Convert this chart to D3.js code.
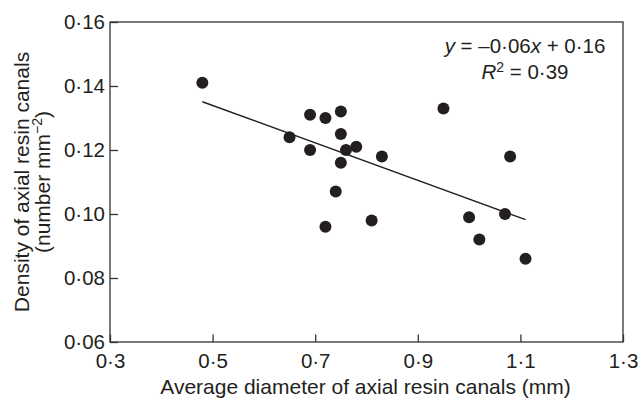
<!DOCTYPE html>
<html>
<head>
<meta charset="utf-8">
<script src="https://cdn.jsdelivr.net/npm/d3@7"></script>
<style>
  body { margin: 0; background: #fff; }
  svg { display: block; font-family: "Liberation Sans", Arial, sans-serif; }
</style>
</head>
<body>
<svg id="chart" width="638" height="400"></svg>
<script>
// Data
const diameter = [0.48, 0.69, 0.72, 0.75, 0.65, 0.75, 0.69, 0.76, 0.78, 0.75,
                  0.83, 0.74, 0.72, 0.81, 0.95, 1.08, 1.00, 1.07, 1.02, 1.11];
const density  = [0.141, 0.131, 0.130, 0.132, 0.124, 0.125, 0.120, 0.120, 0.121, 0.116,
                  0.118, 0.107, 0.096, 0.098, 0.133, 0.118, 0.099, 0.100, 0.092, 0.086];
const xTicks = [0.3, 0.5, 0.7, 0.9, 1.1, 1.3];
const yTicks = [0.06, 0.08, 0.10, 0.12, 0.14, 0.16];
const xTitle = "Average diameter of axial resin canals (mm)";
const yTitle1 = "Density of axial resin canals";
const equationText = ["y", " = \u20130\u00B706", "x", " + 0\u00B716"];
const r2Text = "0\u00B739";

const W = 638, H = 400;
const m = { left: 110, right: 15, top: 22, bottom: 58 };
const pw = W - m.left - m.right, ph = H - m.top - m.bottom;
const ink = "#231f20";

const svg = d3.select("#chart");
const g = svg.append("g").attr("transform", `translate(${m.left},${m.top})`);

const x = d3.scaleLinear().domain([0.3, 1.3]).range([0, pw]);
const y = d3.scaleLinear().domain([0.06, 0.16]).range([ph, 0]);

const fmt = (d, p) => d3.format("." + p + "f")(d).replace(".", "\u00B7");

// axes
const xa = g.append("g").attr("transform", `translate(0,${ph})`)
  .call(d3.axisBottom(x).tickValues(xTicks).tickSizeInner(-7.5).tickSizeOuter(0).tickPadding(11.5)
        .tickFormat(d => fmt(d, 1)));
const ya = g.append("g")
  .call(d3.axisLeft(y).tickValues(yTicks).tickSizeInner(-8).tickSizeOuter(0).tickPadding(5)
        .tickFormat(d => fmt(d, 2)));
[xa, ya].forEach(a => {
  a.select(".domain").remove();
  a.selectAll("line").attr("stroke", "#333").attr("stroke-width", 1.3);
  a.selectAll("text").attr("fill", ink).style("font-size", "20.5px").attr("font-family", null);
});
ya.selectAll("text").attr("dy", "0.34em");

// frame
g.append("rect").attr("x", 0).attr("y", 0).attr("width", pw).attr("height", ph)
  .attr("fill", "none").attr("stroke", "#333").attr("stroke-width", 1.3);

// regression line (least squares on the data)
const mx = d3.mean(diameter), my = d3.mean(density);
let sxy = 0, sxx = 0;
diameter.forEach((d, i) => { sxy += (d - mx) * (density[i] - my); sxx += (d - mx) ** 2; });
const slope = sxy / sxx, icpt = my - slope * mx;
const [x0, x1] = d3.extent(diameter);
g.append("line")
  .attr("x1", x(x0)).attr("y1", y(icpt + slope * x0))
  .attr("x2", x(x1)).attr("y2", y(icpt + slope * x1))
  .attr("stroke", ink).attr("stroke-width", 1.4);

// points
g.selectAll("circle.pt").data(diameter.map((d, i) => [d, density[i]]))
  .join("circle").attr("class", "pt")
  .attr("cx", d => x(d[0])).attr("cy", d => y(d[1])).attr("r", 6)
  .attr("fill", ink);

// equation
const eq = svg.append("text").attr("x", 525).attr("y", 53).attr("text-anchor", "middle")
  .attr("fill", ink).style("font-size", "20.5px");
equationText.forEach((t, i) => {
  eq.append("tspan").text(t).attr("font-style", (i === 0 || i === 2) ? "italic" : "normal");
});
const r2 = svg.append("text").attr("x", 525).attr("y", 79).attr("text-anchor", "middle")
  .attr("fill", ink).style("font-size", "20.5px");
r2.append("tspan").text("R").attr("font-style", "italic");
r2.append("tspan").text("2").style("font-size", "14px").attr("dy", -7.5);
r2.append("tspan").text(" = " + r2Text).attr("dy", 7.5);

// axis titles
svg.append("text").attr("x", m.left + pw / 2 - 1).attr("y", 394).attr("text-anchor", "middle")
  .attr("fill", ink).style("font-size", "21px").text(xTitle);

const yt = svg.append("g").attr("transform", `translate(0,${m.top + ph / 2}) rotate(-90)`);
yt.append("text").attr("x", 0).attr("y", 28.5).attr("text-anchor", "middle")
  .attr("fill", ink).style("font-size", "21px").text(yTitle1);
const yt2 = yt.append("text").attr("x", 0).attr("y", 49.5).attr("text-anchor", "middle")
  .attr("fill", ink).style("font-size", "21px");
yt2.append("tspan").text("(number mm");
yt2.append("tspan").text("\u22122").style("font-size", "14px").attr("dy", -7.5);
yt2.append("tspan").text(")").attr("dy", 7.5);
</script>
</body>
</html>
